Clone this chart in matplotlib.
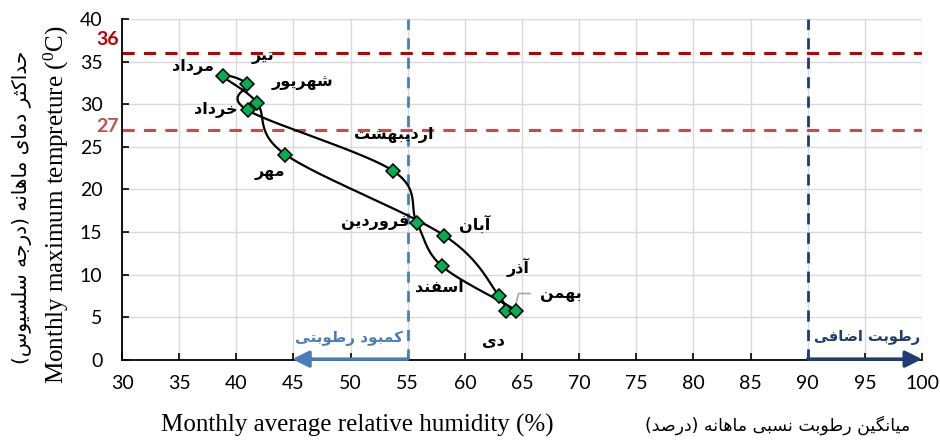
import numpy as np
import matplotlib
matplotlib.use('Agg')
import matplotlib.pyplot as plt

# ---- data: Persian months, mean relative humidity (%) and max temperature (C)
months = ['فروردین', 'اردیبهشت', 'خرداد', 'تیر', 'مرداد', 'شهریور',
          'مهر', 'آبان', 'آذر', 'دی', 'بهمن', 'اسفند']
humidity = [55.8, 53.7, 41.0, 40.9, 38.8, 41.8, 44.3, 58.2, 63.0, 63.6, 64.5, 58.0]
max_temp = [16.1, 22.2, 29.3, 32.4, 33.3, 30.2, 24.1, 14.6, 7.5, 5.7, 5.8, 11.0]

# label offsets (pixels) for each month name
label_offsets = [(-42, 0), (1, 36), (-32, 0), (16, 27), (-30, 9), (46, 20),
                 (-16, -18), (30, 12), (19, 29), (-13, -30), (45, 16), (-3, -21)]

comfort_temp = [36, 27]
dry_limit = 55
wet_limit = 90


# ---- minimal Persian shaping (matplotlib has no bidi / joining support)
_forms = {
    'ا': (0xFE8D, 0xFE8E, None, None), 'آ': (0xFE81, 0xFE82, None, None),
    'ب': (0xFE8F, 0xFE90, 0xFE91, 0xFE92), 'ت': (0xFE95, 0xFE96, 0xFE97, 0xFE98),
    'ث': (0xFE99, 0xFE9A, 0xFE9B, 0xFE9C), 'ج': (0xFE9D, 0xFE9E, 0xFE9F, 0xFEA0),
    'ح': (0xFEA1, 0xFEA2, 0xFEA3, 0xFEA4), 'خ': (0xFEA5, 0xFEA6, 0xFEA7, 0xFEA8),
    'د': (0xFEA9, 0xFEAA, None, None), 'ذ': (0xFEAB, 0xFEAC, None, None),
    'ر': (0xFEAD, 0xFEAE, None, None), 'ز': (0xFEAF, 0xFEB0, None, None),
    'س': (0xFEB1, 0xFEB2, 0xFEB3, 0xFEB4), 'ش': (0xFEB5, 0xFEB6, 0xFEB7, 0xFEB8),
    'ص': (0xFEB9, 0xFEBA, 0xFEBB, 0xFEBC), 'ض': (0xFEBD, 0xFEBE, 0xFEBF, 0xFEC0),
    'ط': (0xFEC1, 0xFEC2, 0xFEC3, 0xFEC4), 'ف': (0xFED1, 0xFED2, 0xFED3, 0xFED4),
    'ق': (0xFED5, 0xFED6, 0xFED7, 0xFED8), 'ل': (0xFEDD, 0xFEDE, 0xFEDF, 0xFEE0),
    'م': (0xFEE1, 0xFEE2, 0xFEE3, 0xFEE4), 'ن': (0xFEE5, 0xFEE6, 0xFEE7, 0xFEE8),
    'ه': (0xFEE9, 0xFEEA, 0xFEEB, 0xFEEC), 'و': (0xFEED, 0xFEEE, None, None),
    'ک': (0xFB8E, 0xFB8F, 0xFB90, 0xFB91), 'گ': (0xFB92, 0xFB93, 0xFB94, 0xFB95),
    'ی': (0xFBFC, 0xFBFD, 0xFBFE, 0xFBFF),
}
_mirror = {'(': ')', ')': '('}


def fa(text):
    out = []
    n = len(text)
    for i, ch in enumerate(text):
        f = _forms.get(ch)
        if f is None:
            out.append(_mirror.get(ch, ch))
            continue
        prev = text[i - 1] if i > 0 else ''
        nxt = text[i + 1] if i < n - 1 else ''
        join_prev = prev in _forms and _forms[prev][2] is not None
        join_next = f[2] is not None and nxt in _forms
        if join_prev and join_next:
            code = f[3]
        elif join_prev:
            code = f[1]
        elif join_next:
            code = f[2]
        else:
            code = f[0]
        out.append(chr(code))
    return ''.join(reversed(out))


def smooth_loop(xs, ys, steps=30):
    # closed Catmull-Rom curve through the points (Excel style smoothing)
    p = np.column_stack([xs, ys])
    n = len(p)
    pts = []
    for i in range(n):
        p0, p1, p2, p3 = p[i - 1], p[i], p[(i + 1) % n], p[(i + 2) % n]
        t = np.linspace(0, 1, steps, endpoint=False)[:, None]
        c1 = p1 + (p2 - p0) / 6
        c2 = p2 - (p3 - p1) / 6
        seg = ((1 - t) ** 3) * p1 + 3 * ((1 - t) ** 2) * t * c1 + \
            3 * (1 - t) * t ** 2 * c2 + t ** 3 * p2
        pts.append(seg)
    pts.append(p[:1])
    pts = np.vstack(pts)
    return pts[:, 0], pts[:, 1]


plt.rcParams['mathtext.fontset'] = 'custom'
plt.rcParams['mathtext.rm'] = 'Liberation Serif'

fig = plt.figure(figsize=(9.4, 4.44), dpi=100)
ax = fig.add_axes([122 / 940, 1 - 360 / 444, 800 / 940, 341 / 444])

ax.set_xlim(30, 100)
ax.set_ylim(0, 40)
ax.set_xticks(np.arange(30, 101, 5))
ax.set_yticks(np.arange(0, 41, 5))
ax.grid(True, color='#d9d9d9', lw=1)
ax.set_axisbelow(True)
for s in ['top', 'right']:
    ax.spines[s].set_visible(False)
for s in ['left', 'bottom']:
    ax.spines[s].set_linewidth(1.3)
ax.tick_params(direction='in', length=5, width=1.2, labelsize=14)
ax.tick_params(axis='x', pad=11)
ax.tick_params(axis='y', pad=14)
for lab in ax.get_xticklabels() + ax.get_yticklabels():
    lab.set_fontfamily('Lato')

# comfort temperature limits
ax.axhline(comfort_temp[0], color='#c00000', ls=(0, (4, 3)), lw=2.2, zorder=2)
ax.axhline(comfort_temp[1], color='#c0504d', ls=(0, (4, 3)), lw=2.2, zorder=2)
ax.text(29.7, 37.6, '36', color='#c00000', fontsize=14,
        fontweight='bold', ha='right', va='center', fontfamily='Lato')
ax.text(29.7, 27.4, '27', color='#c0504d', fontsize=14,
        fontweight='bold', ha='right', va='center', fontfamily='Lato')

# humidity limits
ax.axvline(dry_limit, color='#4a7ebb', ls=(0, (4, 3)), lw=2, zorder=2)
ax.axvline(wet_limit, color='#1f3d73', ls=(0, (4, 3)), lw=2, zorder=2)
ax.annotate('', xy=(44.9, 0.1), xytext=(dry_limit, 0.1),
            arrowprops=dict(arrowstyle='-|>,head_length=1.0,head_width=0.5',
                            color='#4a7ebb', lw=2.5, shrinkA=0, shrinkB=0),
            annotation_clip=False, zorder=4)
ax.annotate('', xy=(100, 0.1), xytext=(wet_limit, 0.1),
            arrowprops=dict(arrowstyle='-|>,head_length=1.0,head_width=0.5',
                            color='#1f3d73', lw=2.5, shrinkA=0, shrinkB=0),
            annotation_clip=False, zorder=4)
ax.text(54.6, 2.6, fa('کمبود رطوبتی'), color='#4a7ebb', fontsize=11,
        fontweight='bold', ha='right', va='center', fontfamily='DejaVu Sans')
ax.text(99.8, 2.6, fa('رطوبت اضافی'), color='#1f3d73', fontsize=10.5,
        fontweight='bold', ha='right', va='center', fontfamily='DejaVu Sans')

# smoothed monthly loop
cx, cy = smooth_loop(humidity, max_temp)
ax.plot(cx, cy, color='black', lw=1.6, zorder=5)
ax.plot(humidity, max_temp, ls='none', marker='D', ms=7.5, mfc='#00b050',
        mec='black', mew=1.1, zorder=6)

for name, x, y, off in zip(months, humidity, max_temp, label_offsets):
    ax.annotate(fa(name), (x, y), xytext=off, textcoords='offset pixels',
                ha='center', va='center', fontsize=11.5, fontweight='bold',
                fontfamily='DejaVu Sans', zorder=7)

# leader line for the Bahman label
ax.plot([64.3, 64.7, 65.7], [5.6, 7.8, 7.8], color='#a6a6a6', lw=1.2, zorder=4)

# axis titles (English + Persian)
fig.text(357 / 940, 1 - 425 / 444, 'Monthly average relative humidity (%)',
         fontsize=18, fontfamily='Liberation Serif', ha='center', va='center')
fig.text(778 / 940, 1 - 425 / 444, fa('میانگین رطوبت نسبی ماهانه (درصد)'),
         fontsize=12.5, fontfamily='DejaVu Sans', ha='center', va='center')
fig.text(56 / 940, 1 - 205 / 444,
         r'Monthly maximum tempreture ($\mathregular{^0}$C)',
         fontsize=18, fontfamily='Liberation Serif', rotation=90,
         ha='center', va='center')
fig.text(22 / 940, 1 - 207 / 444, fa('حداکثر دمای ماهانه (درجه سلسیوس)'),
         fontsize=14.5, fontfamily='DejaVu Sans', rotation=90,
         ha='center', va='center')

fig.savefig('out.png', dpi=100)
